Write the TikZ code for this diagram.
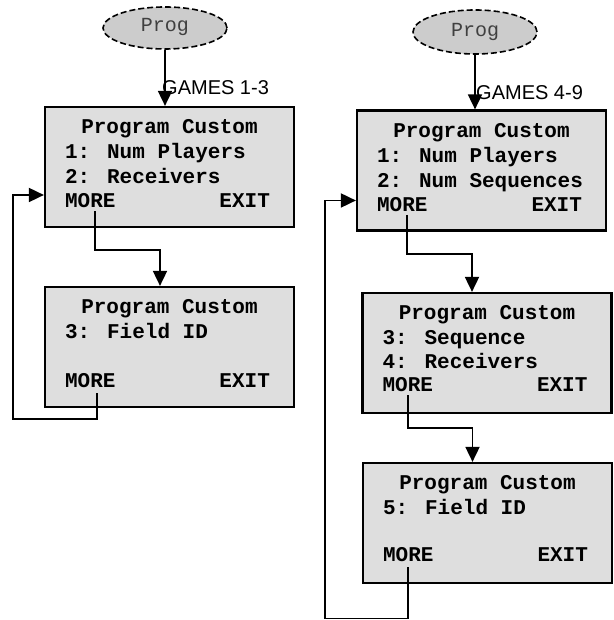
\documentclass[tikz,border=0pt]{standalone}
\usepackage{fontspec}
\setmainfont{Liberation Sans}
\newfontfamily\lcdfont{Liberation Mono}
\usepackage{xcolor}
\usepackage{tikz}
\usetikzlibrary{positioning,arrows.meta,calc,shapes.geometric}

\definecolor{screengray}{gray}{0.87}
\definecolor{proggray}{gray}{0.80}

\begin{document}
\begin{tikzpicture}[x=1pt, y=1pt,
  screen/.style={rectangle, draw, line width=2.2pt, fill=screengray, minimum width=249pt, minimum height=120pt, inner sep=0pt},
  prog/.style={ellipse, draw, dash pattern=on 6pt off 3pt, line width=1.6pt, fill=proggray, minimum width=124pt, minimum height=42pt, inner sep=0pt, text depth=7pt, font=\lcdfont\fontsize{20}{24}\selectfont, text=black!75},
  lcd/.style={inner sep=0pt, font=\lcdfont\bfseries\fontsize{21}{25}\selectfont},
  games/.style={inner sep=0pt, anchor=base west, font=\fontsize{20}{24}\selectfont},
  conn/.style={line width=1.8pt, -{Triangle[length=15pt,width=14pt]}}]
\useasboundingbox (0,0) rectangle (613,620);

% start ovals
\node[prog] (lprog) at (165,592) {Prog};
\node[prog, minimum height=44pt, text depth=5pt] (rprog) at (475,588) {Prog};

% screens
\node[screen] (l1) at (169.5,453) {};
\node[screen] (l2) at (169.5,273) {};
\node[screen] (r1) at (481.5,449.5) {};
\node[screen] (r2) at (487,267) {};
\node[screen] (r3) at (487.5,97) {};

% games 1-3
\node[lcd, below=28pt of l1.north, anchor=base] (l1title) {Program Custom};
\node[lcd, below right=53pt and 21pt of l1.north west, anchor=base west] (l1a) {1: Num Players};
\node[lcd, below right=78pt and 21pt of l1.north west, anchor=base west] (l1b) {2: Receivers};
\node[lcd, below right=102pt and 21pt of l1.north west, anchor=base west] (l1more) {MORE};
\node[lcd, below left=102pt and 25pt of l1.north east, anchor=base east] (l1exit) {EXIT};

\node[lcd, below=28pt of l2.north, anchor=base] (l2title) {Program Custom};
\node[lcd, below right=53pt and 21pt of l2.north west, anchor=base west] (l2a) {3: Field ID};
\node[lcd, below right=102pt and 21pt of l2.north west, anchor=base west] (l2more) {MORE};
\node[lcd, below left=102pt and 25pt of l2.north east, anchor=base east] (l2exit) {EXIT};

% games 4-9
\node[lcd, below=28pt of r1.north, anchor=base] (r1title) {Program Custom};
\node[lcd, below right=53pt and 21pt of r1.north west, anchor=base west] (r1a) {1: Num Players};
\node[lcd, below right=78pt and 21pt of r1.north west, anchor=base west] (r1b) {2: Num Sequences};
\node[lcd, below right=102pt and 21pt of r1.north west, anchor=base west] (r1more) {MORE};
\node[lcd, below left=102pt and 25pt of r1.north east, anchor=base east] (r1exit) {EXIT};

\node[lcd, below=28pt of r2.north, anchor=base] (r2title) {Program Custom};
\node[lcd, below right=53pt and 21pt of r2.north west, anchor=base west] (r2a) {3: Sequence};
\node[lcd, below right=77pt and 21pt of r2.north west, anchor=base west] (r2b) {4: Receivers};
\node[lcd, below right=100pt and 21pt of r2.north west, anchor=base west] (r2more) {MORE};
\node[lcd, below left=100pt and 25pt of r2.north east, anchor=base east] (r2exit) {EXIT};

\node[lcd, below=28pt of r3.north, anchor=base] (r3title) {Program Custom};
\node[lcd, below right=53pt and 21pt of r3.north west, anchor=base west] (r3a) {5: Field ID};
\node[lcd, below right=100pt and 21pt of r3.north west, anchor=base west] (r3more) {MORE};
\node[lcd, below left=100pt and 25pt of r3.north east, anchor=base east] (r3exit) {EXIT};

\node[games] (lgames) at (162,525) {GAMES 1-3};
\node[games] (rgames) at (476,520) {GAMES 4-9};

\coordinate (lback) at (13,201);
\coordinate (rback) at (325,1.5);

\draw[conn] (lprog.south) -- (lprog.south |- l1.north);
\draw[conn] ([xshift=5pt,yshift=-3pt]l1more.south) -- ++(0,-39) -| ([xshift=-9.5pt]l2.north);
\draw[conn] ([xshift=7pt,yshift=-5pt]l2more.south) |- (lback) |- ([yshift=-28pt]l1.west);

\draw[conn] (rprog.south) -- (rprog.south |- r1.north);
\draw[conn] ([xshift=5pt,yshift=-3pt]r1more.south) -- ++(0,-39) -| ([xshift=-15pt]r2.north);
\draw[conn] ([yshift=-3pt]r2more.south) -- ++(0,-33) -| ([xshift=-15pt]r3.north);
\draw[conn] ([yshift=-5pt]r3more.south) |- (rback) |- ([yshift=-30pt]r1.west);
\end{tikzpicture}
\end{document}
